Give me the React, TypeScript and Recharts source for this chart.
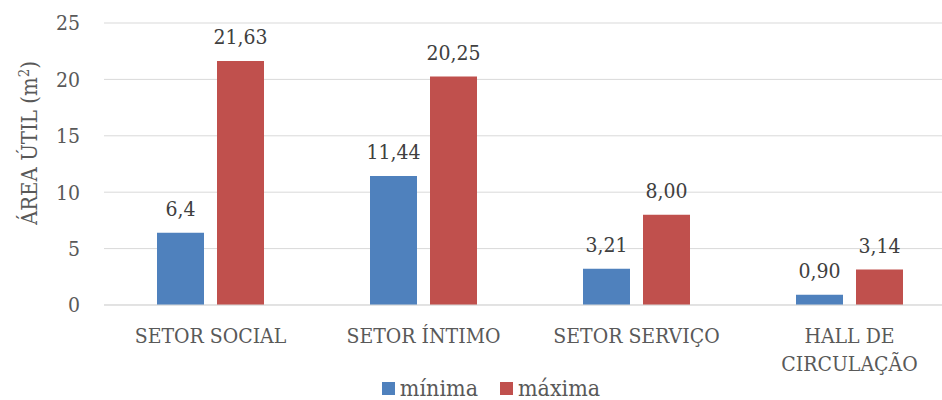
import React from 'react';
import { BarChart, Bar, XAxis, YAxis, CartesianGrid, Legend, LabelList } from 'recharts';

// ---------------------------------------------------------------------------
// Data
// ---------------------------------------------------------------------------

const categories = ['SETOR SOCIAL', 'SETOR ÍNTIMO', 'SETOR SERVIÇO', 'HALL DE\nCIRCULAÇÃO'];
const minima = [6.4, 11.44, 3.21, 0.9];
const maxima = [21.63, 20.25, 8.0, 3.14];
const minimaLabels = ['6,4', '11,44', '3,21', '0,90'];
const maximaLabels = ['21,63', '20,25', '8,00', '3,14'];
const yTicks = [0, 5, 10, 15, 20, 25];

const data = categories.map((name, i) => ({
  name,
  minima: minima[i],
  maxima: maxima[i],
  minLabel: minimaLabels[i],
  maxLabel: maximaLabels[i],
}));

const FONT = "'DejaVu Serif Condensed', 'Liberation Serif', serif";
const BLUE = '#4f81bd';
const RED = '#c0504d';
const TEXT = '#595959';

// ---------------------------------------------------------------------------
// Custom pieces
// ---------------------------------------------------------------------------

const CategoryTick = ({ x, y, payload }: any) => {
  const lines = String(payload.value).split('\n');
  return (
    <text x={x} y={y} textAnchor="middle" fill={TEXT} fontSize={21} fontFamily={FONT}>
      {lines.map((l, i) => (
        <tspan key={i} x={x} dy={i === 0 ? 38 : 28}>
          {l}
        </tspan>
      ))}
    </text>
  );
};

const YLabel = () => (
  <text
    x={0}
    y={0}
    transform="translate(37, 143) rotate(-90)"
    textAnchor="middle"
    fill={TEXT}
    fontSize={22}
    fontFamily={FONT}
  >
    ÁREA ÚTIL (m
    <tspan fontSize={15} dy={-8}>2</tspan>
    <tspan dy={8}>)</tspan>
  </text>
);

const LegendContent = () => (
  <div
    style={{
      display: 'flex',
      justifyContent: 'center',
      alignItems: 'center',
      paddingLeft: 48,
      fontFamily: FONT,
      fontSize: 23,
      lineHeight: '24px',
      color: TEXT,
      height: 30,
    }}
  >
    {[
      { label: 'mínima', color: BLUE },
      { label: 'máxima', color: RED },
    ].map((s) => (
      <div key={s.label} style={{ display: 'flex', alignItems: 'center', marginRight: 22 }}>
        <span style={{ width: 13, height: 13, background: s.color, display: 'inline-block', marginRight: 5 }} />
        <span>{s.label}</span>
      </div>
    ))}
  </div>
);

// ---------------------------------------------------------------------------
// Component
// ---------------------------------------------------------------------------

export default function App() {
  return (
    <div style={{ position: 'fixed', left: 0, top: 0, width: 942, height: 400, overflow: 'hidden', background: '#fff' }}>
      <BarChart
        width={960}
        height={400}
        data={data}
        margin={{ top: 23, right: 4, left: 0, bottom: 0 }}
        barSize={47}
        barGap={13}
      >
        <CartesianGrid vertical={false} stroke="#d9d9d9" />
        <XAxis
          dataKey="name"
          height={65}
          tickLine={false}
          axisLine={{ stroke: '#d9d9d9' }}
          tickSize={0}
          tickMargin={0}
          interval={0}
          tick={<CategoryTick />}
        />
        <YAxis
          width={104}
          domain={[0, 25]}
          ticks={yTicks}
          tickLine={false}
          axisLine={false}
          tickSize={0}
          tickMargin={24}
          tick={{ fill: TEXT, fontSize: 21, fontFamily: FONT }}
          label={<YLabel />}
        />
        <Legend verticalAlign="bottom" height={30} wrapperStyle={{ bottom: -3 }} content={<LegendContent />} />
        <Bar dataKey="minima" fill={BLUE} isAnimationActive={false}>
          <LabelList dataKey="minLabel" position="top" offset={17} fill="#404040" fontSize={21} fontFamily={FONT} />
        </Bar>
        <Bar dataKey="maxima" fill={RED} isAnimationActive={false}>
          <LabelList dataKey="maxLabel" position="top" offset={17} fill="#404040" fontSize={21} fontFamily={FONT} />
        </Bar>
      </BarChart>
    </div>
  );
}
